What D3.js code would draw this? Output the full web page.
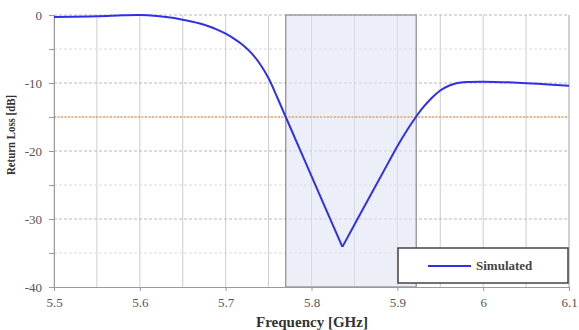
<!DOCTYPE html>
<html>
<head>
<meta charset="utf-8">
<script src="https://cdn.jsdelivr.net/npm/d3@7"></script>
<style>
    body { margin: 0; background: #ffffff; }
    svg { display: block; font-family: "Liberation Serif", "DejaVu Serif", serif; }
</style>
</head>
<body>
<svg id="chart"></svg>
<script>
// simulated return loss
var freq = [5.50, 5.55, 5.58, 5.60, 5.62, 5.64, 5.65, 5.66, 5.67, 5.68, 5.69, 5.70, 5.71, 5.72, 5.73, 5.74, 5.75, 5.76, 5.77,
            5.80, 5.836, 5.87, 5.89, 5.90, 5.91, 5.92, 5.93, 5.94, 5.95, 5.96, 5.97, 5.98, 6.00, 6.04, 6.10];
var loss = [-0.3, -0.2, -0.05, 0.0, -0.15, -0.45, -0.7, -0.95, -1.25, -1.65, -2.15, -2.75, -3.5, -4.4, -5.6, -7.2, -9.3, -12.1, -15.0,
            -23.7, -34.1, -26.2, -21.6, -19.3, -17.2, -15.3, -13.6, -12.2, -11.1, -10.4, -10.0, -9.85, -9.8, -9.95, -10.4];
var xTicks = [5.5, 5.6, 5.7, 5.8, 5.9, 6.0, 6.1];
var yTicks = [0, -10, -20, -30, -40];
var band = [5.77, 5.922];
var threshold = -15;
var seriesName = "Simulated";

var width = 579, height = 330;
var margin = {top: 15, right: 10, bottom: 43, left: 54};
var svg = d3.select("#chart").attr("width", width).attr("height", height);
var g = svg.append("g").attr("transform", "translate(" + margin.left + "," + margin.top + ")");
var w = width - margin.left - margin.right;   // 515
var h = height - margin.top - margin.bottom;  // 272

var x = d3.scaleLinear().domain([5.5, 6.1]).range([0, w]);
var y = d3.scaleLinear().domain([-40, 0]).range([h, 0]);

// vertical grid every 0.05
var vGrid = d3.range(0, 13).map(function(i) { return 5.5 + i * 0.05; });
g.append("g").selectAll("line").data(vGrid).enter().append("line")
    .attr("x1", function(d) { return x(d); }).attr("x2", function(d) { return x(d); })
    .attr("y1", 0).attr("y2", h)
    .style("stroke", "#cccccc").style("stroke-width", 1);

// horizontal dashed grid every 5 dB
var hGrid = d3.range(0, 9).map(function(i) { return -i * 5; });
g.append("g").selectAll("line").data(hGrid.slice(0, 8)).enter().append("line")
    .attr("x1", 0).attr("x2", w)
    .attr("y1", function(d) { return y(d); }).attr("y2", function(d) { return y(d); })
    .style("stroke", function(d) { return d % 10 == 0 ? "#b8b8b8" : "#dcdcdc"; })
    .style("stroke-dasharray", "3,2").style("stroke-width", 1);

// shaded band
g.append("rect")
    .attr("x", x(band[0])).attr("y", 0)
    .attr("width", x(band[1]) - x(band[0])).attr("height", h)
    .style("fill", "#dfe5f2").style("fill-opacity", 0.6)
    .style("stroke", "#8a8a8a").style("stroke-width", 1.2);

// -15 dB threshold
g.append("line")
    .attr("x1", 0).attr("x2", w).attr("y1", y(threshold)).attr("y2", y(threshold))
    .style("stroke", "#f0a060").style("stroke-width", 1.5).style("stroke-dasharray", "2,1.5");

// axes
var xAxis = g.append("g").attr("transform", "translate(0," + h + ")")
    .call(d3.axisBottom(x).tickValues(xTicks).tickSize(4).tickPadding(7)
        .tickFormat(function(d) { return d == 6 ? "6" : d3.format(".1f")(d); }));
var yAxis = g.append("g")
    .call(d3.axisLeft(y).tickValues(hGrid).tickSize(5).tickPadding(7)
        .tickFormat(function(d) { return yTicks.indexOf(d) >= 0 ? d : ""; }));
[xAxis, yAxis].forEach(function(a) {
    a.select(".domain").style("stroke", "#9a9a9a");
    a.selectAll(".tick line").style("stroke", "#9a9a9a");
    a.selectAll("text").style("font-size", "13px").style("fill", "#555555")
        .style("font-family", "'Liberation Serif', serif");
});
g.append("line").attr("x1", w).attr("x2", w).attr("y1", 0).attr("y2", h)
    .style("stroke", "#bdbdbd");

// curve: two smooth halves meeting at the sharp minimum
var pts = freq.map(function(f, i) { return [f, loss[i]]; });
var iMin = d3.minIndex(loss);
var line = d3.line()
    .x(function(d) { return x(d[0]); })
    .y(function(d) { return y(d[1]); })
    .curve(d3.curveCatmullRom.alpha(0.5));
g.append("path").datum(pts.slice(0, iMin + 1)).attr("d", line)
    .style("fill", "none").style("stroke", "#3030e8").style("stroke-width", 2);
g.append("path").datum(pts.slice(iMin)).attr("d", line)
    .style("fill", "none").style("stroke", "#3030e8").style("stroke-width", 2);

// legend
var lg = g.append("g").attr("transform", "translate(" + (398 - margin.left) + "," + (248 - margin.top) + ")");
lg.append("rect").attr("width", 170).attr("height", 35)
    .style("fill", "#ffffff").style("stroke", "#444444").style("stroke-width", 1.5);
lg.append("line").attr("x1", 30).attr("x2", 73).attr("y1", 18).attr("y2", 18)
    .style("stroke", "#3030e8").style("stroke-width", 2);
lg.append("text").attr("x", 78).attr("y", 22).text(seriesName)
    .style("font-size", "13px").style("font-weight", "bold").style("fill", "#444444");

// axis titles
svg.append("text").attr("x", 312).attr("y", 327)
    .attr("text-anchor", "middle").text("Frequency [GHz]")
    .attr("textLength", 112).attr("lengthAdjust", "spacingAndGlyphs")
    .style("font-size", "14px").style("font-weight", "bold").style("fill", "#333333");
svg.append("text").attr("transform", "translate(15,135) rotate(-90)")
    .attr("text-anchor", "middle").text("Return Loss [dB]")
    .attr("textLength", 80).attr("lengthAdjust", "spacingAndGlyphs")
    .style("font-size", "13px").style("font-weight", "bold").style("fill", "#333333");
</script>
</body>
</html>
